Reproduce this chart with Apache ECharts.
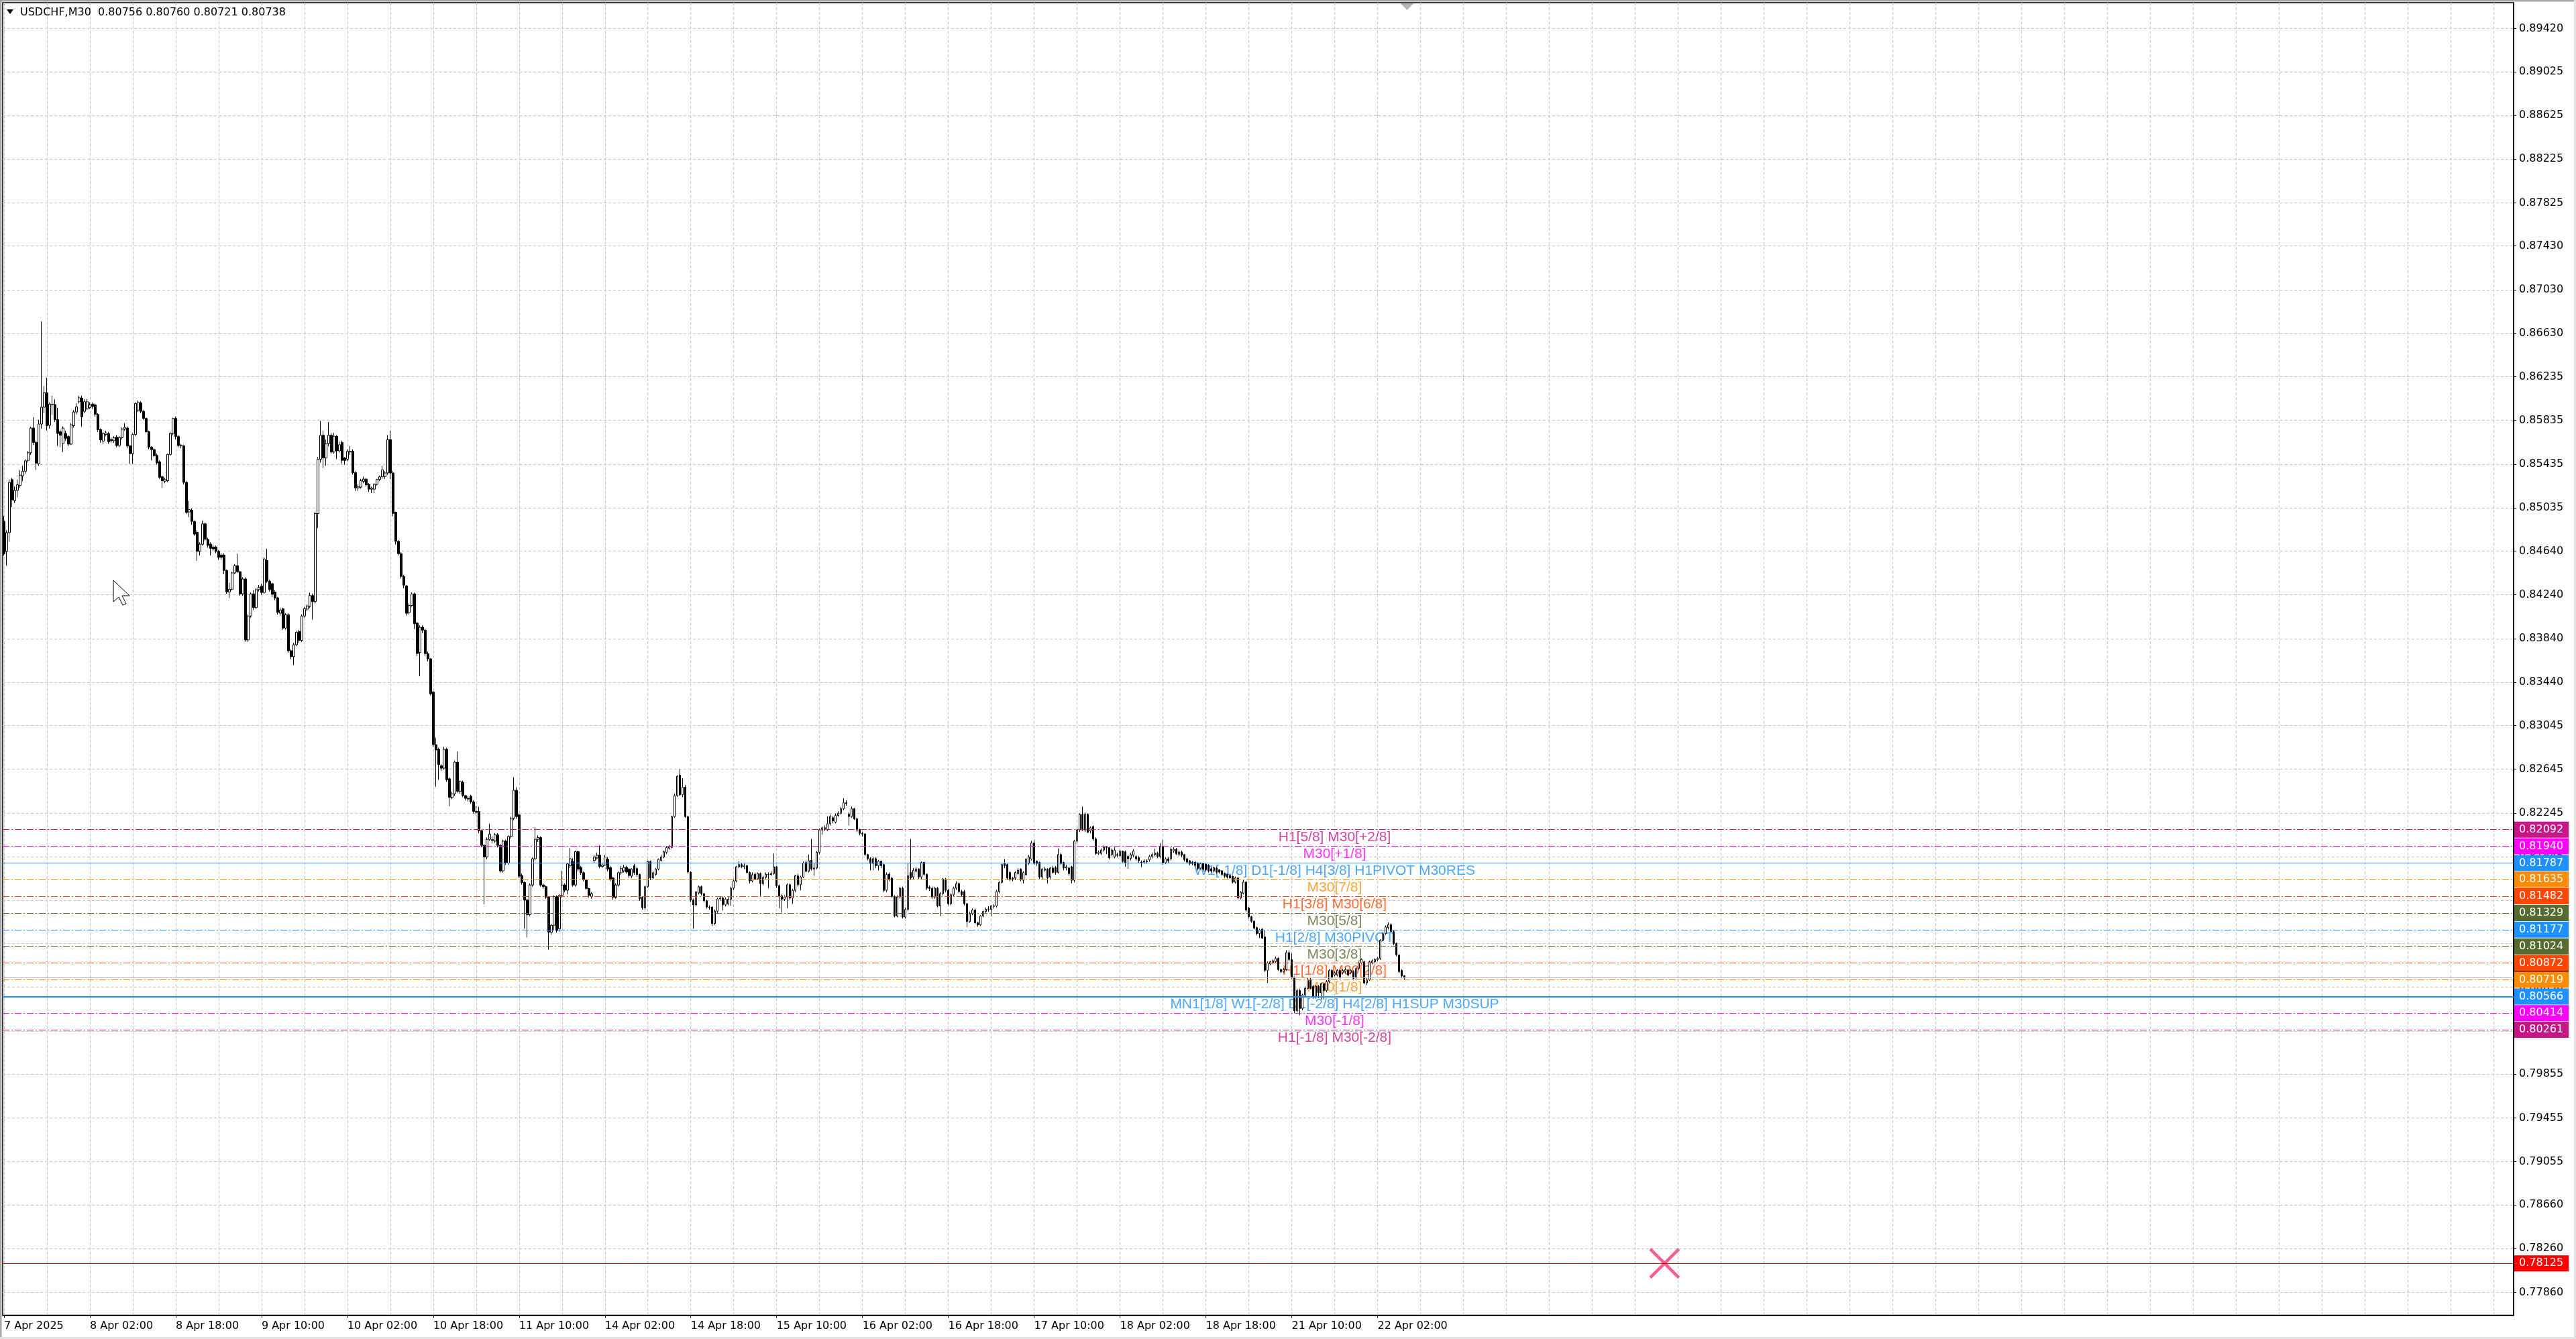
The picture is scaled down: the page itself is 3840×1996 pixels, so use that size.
<!DOCTYPE html>
<html><head><meta charset="utf-8">
<script src="https://cdn.jsdelivr.net/npm/echarts@6/dist/echarts.min.js"></script>
<style>html,body{margin:0;padding:0;background:#fff;overflow:hidden}#c{width:3840px;height:1996px}</style>
</head><body><div id="c"></div>
<script>
// ---------------- DATA ----------------
const symbolName = 'USDCHF,M30';
const slotCount = 936; // M30 slots visible on the time axis (incl. empty shift area)
const xTickLabels = ['7 Apr 2025','8 Apr 02:00','8 Apr 18:00','9 Apr 10:00','10 Apr 02:00','10 Apr 18:00',
  '11 Apr 10:00','14 Apr 02:00','14 Apr 18:00','15 Apr 10:00','16 Apr 02:00','16 Apr 18:00','17 Apr 10:00',
  '18 Apr 02:00','18 Apr 18:00','21 Apr 10:00','22 Apr 02:00'];
const yTickLabels = ['0.89420','0.89025','0.88625','0.88225','0.87825','0.87430','0.87030','0.86630','0.86235',
  '0.85835','0.85435','0.85035','0.84640','0.84240','0.83840','0.83440','0.83045','0.82645','0.82245','0.81845',
  '0.81445','0.81050','0.80650','0.80250','0.79855','0.79455','0.79055','0.78660','0.78260','0.77860'];
const levelPrices = [0.82092,0.81940,0.81787,0.81635,0.81482,0.81329,0.81177,0.81024,0.80872,0.80719,0.80566,0.80414,0.80261];
const levelNames = ['H1[5/8] M30[+2/8]','M30[+1/8]','W1[-1/8] D1[-1/8] H4[3/8] H1PIVOT M30RES','M30[7/8]',
  'H1[3/8] M30[6/8]','M30[5/8]','H1[2/8] M30PIVOT','M30[3/8]','H1[1/8] M30[2/8]','M30[1/8]',
  'MN1[1/8] W1[-2/8] D1[-2/8] H4[2/8] H1SUP M30SUP','M30[-1/8]','H1[-1/8] M30[-2/8]'];
const levelLabelBar = 496;
const bidPrice = 0.80738;
const stopPrice = 0.78125;
const stopMarkBar = 619;
// candles: [open, close, low, high]
const candles = [
// 0-49
[0.84911,0.84615,0.84600,0.84960],[0.84637,0.84808,0.84506,0.84830],[0.84808,0.85268,0.84725,0.85294],[0.85294,0.85108,0.85042,0.85310],[0.85101,0.85195,0.85080,0.85230],
[0.85195,0.85246,0.85130,0.85294],[0.85239,0.85334,0.85220,0.85380],[0.85327,0.85371,0.85280,0.85420],[0.85371,0.85465,0.85350,0.85480],[0.85469,0.85539,0.85450,0.85557],
[0.85539,0.85765,0.85520,0.85776],[0.85765,0.85634,0.85610,0.85864],[0.85634,0.85443,0.85382,0.85650],[0.85437,0.85802,0.85420,0.85842],[0.85802,0.85956,0.85760,0.86740],
[0.85956,0.86087,0.85900,0.86148],[0.86087,0.85787,0.85743,0.86225],[0.85791,0.85984,0.85760,0.86000],[0.85984,0.85980,0.85885,0.86061],[0.85980,0.85842,0.85820,0.86028],
[0.85842,0.85715,0.85601,0.85951],[0.85732,0.85699,0.85590,0.85750],[0.85623,0.85765,0.85546,0.85780],[0.85715,0.85671,0.85650,0.85740],[0.85688,0.85618,0.85600,0.85700],
[0.85618,0.85794,0.85610,0.85809],[0.85787,0.85912,0.85770,0.85930],[0.85912,0.85958,0.85890,0.85990],[0.86006,0.86043,0.85990,0.86061],[0.86039,0.85868,0.85776,0.86061],
[0.85918,0.86006,0.85900,0.86028],[0.85940,0.86006,0.85930,0.86030],[0.85951,0.85977,0.85940,0.86000],[0.85984,0.85962,0.85940,0.86000],[0.85977,0.85890,0.85870,0.85990],
[0.85890,0.85750,0.85730,0.85900],[0.85750,0.85656,0.85630,0.85760],[0.85645,0.85715,0.85620,0.85730],[0.85706,0.85721,0.85690,0.85740],[0.85715,0.85640,0.85620,0.85730],
[0.85660,0.85649,0.85630,0.85680],[0.85649,0.85677,0.85630,0.85690],[0.85682,0.85605,0.85590,0.85700],[0.85605,0.85677,0.85590,0.85690],[0.85677,0.85754,0.85660,0.85770],
[0.85754,0.85771,0.85740,0.85809],[0.85765,0.85601,0.85580,0.85780],[0.85601,0.85531,0.85437,0.85610],[0.85531,0.85706,0.85437,0.85720],[0.85706,0.85990,0.85690,0.86000],
// 50-99
[0.85929,0.85999,0.85910,0.86017],[0.85995,0.85918,0.85900,0.86010],[0.85918,0.85853,0.85840,0.85930],[0.85853,0.85732,0.85720,0.85860],[0.85732,0.85590,0.85570,0.85740],
[0.85590,0.85568,0.85469,0.85600],[0.85568,0.85513,0.85500,0.85580],[0.85515,0.85447,0.85430,0.85530],[0.85456,0.85315,0.85300,0.85470],[0.85319,0.85283,0.85217,0.85330],
[0.85277,0.85294,0.85260,0.85310],[0.85283,0.85524,0.85270,0.85530],[0.85524,0.85715,0.85510,0.85730],[0.85715,0.85853,0.85700,0.85860],[0.85853,0.85688,0.85660,0.85870],
[0.85688,0.85605,0.85590,0.85700],[0.85605,0.85601,0.85580,0.85620],[0.85601,0.85268,0.85250,0.85610],[0.85268,0.84992,0.84980,0.85280],[0.84998,0.85020,0.84950,0.85100],
[0.85014,0.84911,0.84880,0.85030],[0.84911,0.84795,0.84780,0.84920],[0.84812,0.84637,0.84550,0.84830],[0.84637,0.84703,0.84600,0.84720],[0.84703,0.84889,0.84690,0.84920],
[0.84889,0.84747,0.84730,0.84900],[0.84747,0.84692,0.84670,0.84760],[0.84703,0.84664,0.84600,0.84720],[0.84677,0.84660,0.84640,0.84700],[0.84677,0.84637,0.84620,0.84690],
[0.84637,0.84582,0.84560,0.84650],[0.84604,0.84582,0.84560,0.84620],[0.84604,0.84462,0.84429,0.84620],[0.84462,0.84265,0.84250,0.84470],[0.84265,0.84290,0.84211,0.84350],
[0.84290,0.84440,0.84280,0.84450],[0.84440,0.84506,0.84430,0.84520],[0.84506,0.84451,0.84440,0.84615],[0.84451,0.84248,0.84230,0.84460],[0.84248,0.84385,0.84230,0.84400],
[0.84385,0.83827,0.83810,0.84400],[0.83827,0.84046,0.83810,0.84060],[0.84046,0.84248,0.84030,0.84260],[0.84248,0.84123,0.84100,0.84280],[0.84123,0.84287,0.84110,0.84300],
[0.84287,0.84309,0.84270,0.84330],[0.84320,0.84261,0.84240,0.84340],[0.84261,0.84567,0.84250,0.84580],[0.84554,0.84364,0.84350,0.84660],[0.84364,0.84287,0.84270,0.84380],
// 100-149
[0.84342,0.84244,0.84220,0.84350],[0.84265,0.84211,0.84190,0.84280],[0.84211,0.84079,0.84060,0.84220],[0.84072,0.84101,0.84050,0.84120],[0.84112,0.83936,0.83920,0.84120],
[0.83936,0.84057,0.83920,0.84070],[0.84057,0.83728,0.83710,0.84070],[0.83728,0.83674,0.83650,0.83740],[0.83674,0.83783,0.83597,0.83800],[0.83783,0.83897,0.83770,0.83910],
[0.83904,0.83823,0.83800,0.83920],[0.83823,0.84046,0.83810,0.84060],[0.84046,0.84112,0.84030,0.84130],[0.84108,0.84138,0.84090,0.84150],[0.84134,0.84233,0.84120,0.84260],
[0.84233,0.84178,0.84013,0.84250],[0.84178,0.84983,0.84160,0.85000],[0.84983,0.85480,0.84850,0.85500],[0.85480,0.85699,0.85450,0.85831],[0.85699,0.85491,0.85400,0.85740],
[0.85491,0.85623,0.85420,0.85660],[0.85623,0.85699,0.85600,0.85820],[0.85699,0.85546,0.85530,0.85720],[0.85546,0.85690,0.85530,0.85720],[0.85690,0.85557,0.85480,0.85700],
[0.85557,0.85612,0.85540,0.85640],[0.85634,0.85469,0.85440,0.85650],[0.85491,0.85469,0.85430,0.85500],[0.85480,0.85552,0.85460,0.85570],[0.85552,0.85546,0.85520,0.85600],
[0.85552,0.85356,0.85340,0.85570],[0.85356,0.85217,0.85190,0.85370],[0.85217,0.85228,0.85190,0.85250],[0.85224,0.85283,0.85210,0.85300],[0.85277,0.85298,0.85260,0.85320],
[0.85298,0.85246,0.85230,0.85310],[0.85250,0.85206,0.85180,0.85260],[0.85206,0.85215,0.85170,0.85230],[0.85206,0.85250,0.85170,0.85260],[0.85250,0.85294,0.85240,0.85300],
[0.85294,0.85319,0.85280,0.85330],[0.85319,0.85382,0.85300,0.85420],[0.85322,0.85354,0.85300,0.85370],[0.85354,0.85659,0.85340,0.85700],[0.85659,0.85354,0.85300,0.85739],
[0.85354,0.84985,0.84960,0.85370],[0.84995,0.84729,0.84700,0.85000],[0.84729,0.84616,0.84600,0.84740],[0.84616,0.84408,0.84390,0.84630],[0.84408,0.84328,0.84300,0.84420],
// 150-199
[0.84321,0.84071,0.84050,0.84330],[0.84078,0.84142,0.84060,0.84160],[0.84142,0.84248,0.84130,0.84260],[0.84248,0.83975,0.83927,0.84260],[0.83981,0.83702,0.83680,0.83990],
[0.83712,0.83943,0.83494,0.83960],[0.83943,0.83917,0.83890,0.83960],[0.83917,0.83702,0.83680,0.83930],[0.83702,0.83654,0.83630,0.83720],[0.83654,0.83334,0.83320,0.83660],
[0.83350,0.82869,0.82850,0.83360],[0.82869,0.82821,0.82484,0.82933],[0.82827,0.82686,0.82548,0.82840],[0.82676,0.82654,0.82630,0.82690],[0.82654,0.82827,0.82640,0.82850],
[0.82827,0.82548,0.82530,0.82840],[0.82557,0.82387,0.82307,0.82570],[0.82387,0.82419,0.82370,0.82440],[0.82419,0.82709,0.82400,0.82720],[0.82709,0.82442,0.82430,0.82805],
[0.82442,0.82532,0.82420,0.82540],[0.82525,0.82403,0.82390,0.82540],[0.82403,0.82378,0.82360,0.82410],[0.82378,0.82372,0.82350,0.82400],[0.82397,0.82346,0.82330,0.82410],
[0.82346,0.82259,0.82240,0.82360],[0.82259,0.82250,0.82230,0.82310],[0.82259,0.82083,0.82060,0.82301],[0.82083,0.81948,0.81930,0.82090],[0.81948,0.81842,0.81410,0.81960],
[0.81842,0.82003,0.81820,0.82020],[0.82003,0.82051,0.81990,0.82147],[0.82000,0.81993,0.81970,0.82030],[0.81987,0.82045,0.81970,0.82060],[0.82045,0.81948,0.81930,0.82060],
[0.81948,0.81714,0.81700,0.81960],[0.81714,0.81987,0.81700,0.82000],[0.81987,0.81787,0.81770,0.82000],[0.81787,0.82029,0.81770,0.82040],[0.82029,0.82195,0.82010,0.82210],
[0.82195,0.82452,0.82180,0.82570],[0.82452,0.82211,0.82190,0.82480],[0.82227,0.81666,0.81650,0.82240],[0.81672,0.81608,0.81590,0.81690],[0.81608,0.81448,0.81185,0.81620],
[0.81448,0.81314,0.81105,0.81460],[0.81314,0.81586,0.81300,0.81600],[0.81586,0.81826,0.81570,0.81840],[0.81826,0.82003,0.81810,0.82115],[0.82003,0.82019,0.81980,0.82040],
// 200-249
[0.82019,0.81586,0.81570,0.82030],[0.81586,0.81570,0.81550,0.81600],[0.81570,0.81474,0.81460,0.81580],[0.81474,0.81153,0.80993,0.81480],[0.81153,0.81217,0.81130,0.81230],
[0.81217,0.81480,0.81170,0.81490],[0.81480,0.81169,0.81150,0.81490],[0.81185,0.81490,0.81160,0.81500],[0.81490,0.81586,0.81470,0.81714],[0.81586,0.81538,0.81520,0.81600],
[0.81538,0.81778,0.81500,0.81790],[0.81762,0.81826,0.81740,0.81922],[0.81800,0.81586,0.81570,0.81830],[0.81586,0.81890,0.81570,0.81900],[0.81890,0.81730,0.81710,0.81900],
[0.81746,0.81698,0.81680,0.81760],[0.81698,0.81634,0.81620,0.81710],[0.81634,0.81554,0.81540,0.81640],[0.81554,0.81490,0.81470,0.81560],[0.81480,0.81506,0.81460,0.81520],
[0.81810,0.81842,0.81790,0.81860],[0.81833,0.81858,0.81820,0.81880],[0.81858,0.81756,0.81740,0.81948],[0.81756,0.81769,0.81740,0.81790],[0.81769,0.81842,0.81760,0.81860],
[0.81820,0.81730,0.81710,0.81840],[0.81746,0.81640,0.81620,0.81760],[0.81650,0.81474,0.81450,0.81660],[0.81474,0.81586,0.81460,0.81600],[0.81586,0.81698,0.81570,0.81710],
[0.81698,0.81736,0.81680,0.81760],[0.81714,0.81746,0.81700,0.81770],[0.81746,0.81704,0.81690,0.81760],[0.81730,0.81672,0.81650,0.81740],[0.81666,0.81730,0.81650,0.81740],
[0.81762,0.81698,0.81680,0.81780],[0.81736,0.81682,0.81660,0.81750],[0.81682,0.81458,0.81440,0.81690],[0.81474,0.81378,0.81360,0.81480],[0.81378,0.81570,0.81360,0.81580],
[0.81570,0.81801,0.81560,0.81810],[0.81801,0.81650,0.81630,0.81810],[0.81650,0.81698,0.81640,0.81710],[0.81682,0.81730,0.81670,0.81740],[0.81730,0.81820,0.81720,0.81830],
[0.81810,0.81842,0.81800,0.81860],[0.81840,0.81890,0.81830,0.81900],[0.81884,0.81929,0.81870,0.81940],[0.81922,0.81939,0.81910,0.81950],[0.81929,0.82211,0.81920,0.82220],
// 250-299
[0.82211,0.82403,0.82200,0.82420],[0.82403,0.82580,0.82390,0.82590],[0.82590,0.82410,0.82400,0.82645],[0.82410,0.82480,0.82390,0.82560],[0.82480,0.82211,0.82200,0.82500],
[0.82211,0.81704,0.81690,0.82220],[0.81704,0.81448,0.81430,0.81710],[0.81448,0.81403,0.81185,0.81460],[0.81403,0.81522,0.81390,0.81530],[0.81512,0.81570,0.81500,0.81580],
[0.81570,0.81506,0.81490,0.81580],[0.81506,0.81442,0.81430,0.81510],[0.81442,0.81384,0.81370,0.81450],[0.81384,0.81380,0.81360,0.81400],[0.81384,0.81233,0.81210,0.81390],
[0.81233,0.81346,0.81220,0.81360],[0.81346,0.81458,0.81330,0.81470],[0.81458,0.81467,0.81440,0.81480],[0.81467,0.81404,0.81352,0.81480],[0.81404,0.81455,0.81390,0.81470],
[0.81414,0.81455,0.81400,0.81480],[0.81455,0.81557,0.81394,0.81570],[0.81557,0.81623,0.81540,0.81640],[0.81623,0.81752,0.81610,0.81760],[0.81752,0.81772,0.81740,0.81803],
[0.81772,0.81752,0.81740,0.81790],[0.81752,0.81760,0.81730,0.81780],[0.81762,0.81700,0.81690,0.81770],[0.81700,0.81623,0.81600,0.81710],[0.81623,0.81680,0.81610,0.81700],
[0.81684,0.81640,0.81630,0.81700],[0.81640,0.81690,0.81630,0.81700],[0.81690,0.81598,0.81486,0.81700],[0.81598,0.81655,0.81580,0.81670],[0.81655,0.81684,0.81640,0.81700],
[0.81684,0.81680,0.81557,0.81700],[0.81680,0.81690,0.81670,0.81710],[0.81690,0.81752,0.81680,0.81874],[0.81752,0.81578,0.81560,0.81760],[0.81578,0.81486,0.81374,0.81590],
[0.81486,0.81455,0.81332,0.81500],[0.81455,0.81476,0.81440,0.81490],[0.81476,0.81588,0.81374,0.81600],[0.81588,0.81465,0.81450,0.81600],[0.81465,0.81537,0.81414,0.81550],
[0.81537,0.81670,0.81520,0.81680],[0.81670,0.81588,0.81570,0.81690],[0.81588,0.81659,0.81537,0.81670],[0.81659,0.81786,0.81650,0.81800],[0.81792,0.81711,0.81700,0.81810],
// 300-349
[0.81711,0.81807,0.81700,0.81864],[0.81813,0.81731,0.81720,0.82007],[0.81731,0.81741,0.81670,0.81790],[0.81741,0.81885,0.81730,0.81895],[0.81885,0.82089,0.81870,0.82100],
[0.82089,0.82109,0.82048,0.82120],[0.82100,0.82109,0.82080,0.82130],[0.82089,0.82146,0.82080,0.82212],[0.82146,0.82212,0.82130,0.82230],[0.82201,0.82171,0.82150,0.82215],
[0.82160,0.82222,0.82150,0.82240],[0.82222,0.82242,0.82210,0.82260],[0.82242,0.82283,0.82230,0.82300],[0.82283,0.82338,0.82270,0.82379],[0.82338,0.82330,0.82310,0.82360],
[0.82232,0.82212,0.82130,0.82250],[0.82212,0.82283,0.82200,0.82303],[0.82283,0.82191,0.82180,0.82290],[0.82191,0.82089,0.82070,0.82200],[0.82093,0.82058,0.82040,0.82100],
[0.82058,0.82052,0.82030,0.82070],[0.82052,0.81864,0.81850,0.82060],[0.81864,0.81827,0.81810,0.81870],[0.81827,0.81782,0.81720,0.81840],[0.81782,0.81827,0.81720,0.81840],
[0.81827,0.81762,0.81740,0.81840],[0.81762,0.81803,0.81720,0.81815],[0.81803,0.81762,0.81740,0.81810],[0.81772,0.81537,0.81520,0.81780],[0.81537,0.81684,0.81520,0.81700],
[0.81684,0.81639,0.81620,0.81700],[0.81649,0.81480,0.81470,0.81660],[0.81480,0.81302,0.81290,0.81490],[0.81302,0.81476,0.81290,0.81490],[0.81476,0.81557,0.81460,0.81567],
[0.81557,0.81292,0.81280,0.81570],[0.81292,0.81363,0.81280,0.81380],[0.81363,0.81670,0.81350,0.81782],[0.81700,0.81649,0.81630,0.82007],[0.81659,0.81721,0.81640,0.81740],
[0.81711,0.81731,0.81700,0.81750],[0.81731,0.81659,0.81640,0.81740],[0.81659,0.81792,0.81640,0.81800],[0.81792,0.81684,0.81670,0.81800],[0.81684,0.81557,0.81540,0.81690],
[0.81567,0.81553,0.81530,0.81580],[0.81553,0.81476,0.81460,0.81570],[0.81476,0.81557,0.81460,0.81567],[0.81557,0.81394,0.81380,0.81567],[0.81394,0.81506,0.81302,0.81520],
// 350-399
[0.81506,0.81639,0.81490,0.81650],[0.81639,0.81537,0.81520,0.81650],[0.81537,0.81414,0.81400,0.81550],[0.81414,0.81496,0.81400,0.81510],[0.81496,0.81557,0.81480,0.81570],
[0.81557,0.81598,0.81540,0.81620],[0.81598,0.81526,0.81510,0.81610],[0.81526,0.81496,0.81480,0.81540],[0.81526,0.81414,0.81400,0.81540],[0.81414,0.81251,0.81200,0.81420],
[0.81251,0.81322,0.81240,0.81340],[0.81322,0.81357,0.81310,0.81370],[0.81357,0.81240,0.81230,0.81370],[0.81240,0.81220,0.81205,0.81250],[0.81220,0.81302,0.81210,0.81310],
[0.81302,0.81343,0.81290,0.81350],[0.81343,0.81363,0.81330,0.81380],[0.81363,0.81367,0.81340,0.81390],[0.81363,0.81394,0.81300,0.81400],[0.81394,0.81390,0.81370,0.81410],
[0.81394,0.81526,0.81380,0.81540],[0.81526,0.81609,0.81510,0.81620],[0.81609,0.81772,0.81600,0.81780],[0.81782,0.81762,0.81740,0.81823],[0.81772,0.81649,0.81630,0.81780],
[0.81700,0.81639,0.81620,0.81710],[0.81649,0.81639,0.81620,0.81660],[0.81649,0.81700,0.81630,0.81710],[0.81690,0.81721,0.81680,0.81740],[0.81731,0.81639,0.81620,0.81740],
[0.81629,0.81700,0.81600,0.81710],[0.81680,0.81823,0.81670,0.81830],[0.81782,0.81843,0.81770,0.81860],[0.81823,0.81970,0.81810,0.81990],[0.81970,0.81782,0.81770,0.81997],
[0.81803,0.81782,0.81760,0.81810],[0.81792,0.81659,0.81640,0.81800],[0.81659,0.81731,0.81640,0.81740],[0.81721,0.81731,0.81710,0.81750],[0.81731,0.81649,0.81600,0.81740],
[0.81659,0.81741,0.81640,0.81750],[0.81741,0.81700,0.81690,0.81760],[0.81746,0.81700,0.81680,0.81760],[0.81700,0.81864,0.81690,0.81920],[0.81864,0.81782,0.81770,0.81880],
[0.81792,0.81741,0.81720,0.81800],[0.81741,0.81752,0.81720,0.81770],[0.81741,0.81690,0.81670,0.81750],[0.81752,0.81629,0.81600,0.81760],[0.81629,0.81987,0.81610,0.81997],
// 400-449
[0.81987,0.82089,0.81970,0.82100],[0.82089,0.82232,0.82070,0.82240],[0.82232,0.82089,0.82080,0.82303],[0.82089,0.82232,0.82070,0.82250],[0.82232,0.82068,0.82060,0.82240],
[0.82079,0.82109,0.82060,0.82120],[0.82120,0.82007,0.81990,0.82130],[0.82007,0.81874,0.81860,0.82020],[0.81874,0.81885,0.81860,0.81900],[0.81874,0.81905,0.81860,0.81920],
[0.81905,0.81930,0.81890,0.81946],[0.81926,0.81930,0.81870,0.81940],[0.81926,0.81833,0.81820,0.81935],[0.81864,0.81905,0.81850,0.81920],[0.81843,0.81905,0.81830,0.81930],
[0.81859,0.81864,0.81840,0.81880],[0.81854,0.81895,0.81840,0.81910],[0.81895,0.81800,0.81790,0.81900],[0.81889,0.81786,0.81752,0.81900],[0.81846,0.81826,0.81734,0.81860],
[0.81830,0.81863,0.81810,0.81880],[0.81857,0.81897,0.81840,0.81910],[0.81846,0.81826,0.81810,0.81860],[0.81836,0.81810,0.81790,0.81850],[0.81795,0.81789,0.81748,0.81810],
[0.81795,0.81806,0.81780,0.81820],[0.81806,0.81799,0.81780,0.81820],[0.81816,0.81846,0.81800,0.81860],[0.81846,0.81863,0.81830,0.81880],[0.81863,0.81877,0.81850,0.81918],
[0.81877,0.81846,0.81830,0.81890],[0.81846,0.81938,0.81830,0.81969],[0.81938,0.81789,0.81770,0.82000],[0.81789,0.81826,0.81775,0.81840],[0.81826,0.81806,0.81790,0.81840],
[0.81826,0.81912,0.81810,0.81930],[0.81897,0.81912,0.81880,0.81930],[0.81912,0.81871,0.81860,0.81925],[0.81867,0.81887,0.81850,0.81900],[0.81887,0.81857,0.81840,0.81900],
[0.81863,0.81816,0.81800,0.81870],[0.81826,0.81795,0.81780,0.81830],[0.81806,0.81781,0.81765,0.81815],[0.81795,0.81781,0.81765,0.81805],[0.81795,0.81765,0.81750,0.81805],
[0.81785,0.81734,0.81720,0.81795],[0.81740,0.81781,0.81725,0.81790],[0.81781,0.81728,0.81710,0.81790],[0.81775,0.81724,0.81710,0.81785],[0.81769,0.81714,0.81700,0.81775],
// 450-499
[0.81734,0.81714,0.81700,0.81745],[0.81714,0.81744,0.81700,0.81755],[0.81740,0.81703,0.81690,0.81750],[0.81724,0.81703,0.81690,0.81730],[0.81714,0.81683,0.81670,0.81720],
[0.81693,0.81666,0.81650,0.81700],[0.81683,0.81658,0.81645,0.81690],[0.81673,0.81652,0.81640,0.81680],[0.81666,0.81612,0.81600,0.81672],[0.81612,0.81650,0.81600,0.81662],
[0.81650,0.81468,0.81455,0.81660],[0.81468,0.81519,0.81455,0.81530],[0.81509,0.81612,0.81500,0.81632],[0.81612,0.81356,0.81340,0.81620],[0.81376,0.81295,0.81280,0.81385],
[0.81295,0.81254,0.81240,0.81305],[0.81254,0.81192,0.81180,0.81260],[0.81196,0.81141,0.81125,0.81205],[0.81141,0.81172,0.81100,0.81185],[0.81182,0.81100,0.81090,0.81190],
[0.81110,0.80804,0.80790,0.81170],[0.80804,0.80873,0.80691,0.80885],[0.80863,0.80883,0.80850,0.80895],[0.80873,0.80893,0.80860,0.80905],[0.80883,0.80914,0.80870,0.80930],
[0.80914,0.80812,0.80800,0.80925],[0.80812,0.80793,0.80780,0.80820],[0.80793,0.80812,0.80780,0.80825],[0.80812,0.80967,0.80800,0.80988],[0.80967,0.80904,0.80890,0.80988],
[0.80904,0.80742,0.80730,0.80960],[0.80742,0.80436,0.80415,0.80750],[0.80436,0.80620,0.80420,0.80635],[0.80620,0.80456,0.80395,0.80635],[0.80456,0.80579,0.80440,0.80590],
[0.80579,0.80640,0.80560,0.80655],[0.80640,0.80722,0.80630,0.80735],[0.80722,0.80640,0.80630,0.80735],[0.80660,0.80558,0.80545,0.80670],[0.80558,0.80660,0.80545,0.80670],
[0.80660,0.80599,0.80550,0.80670],[0.80599,0.80681,0.80538,0.80690],[0.80681,0.80620,0.80538,0.80690],[0.80620,0.80702,0.80605,0.80715],[0.80702,0.80804,0.80690,0.80815],
[0.80804,0.80742,0.80730,0.80815],[0.80763,0.80783,0.80750,0.80795],[0.80763,0.80804,0.80750,0.80815],[0.80804,0.80742,0.80730,0.80815],[0.80783,0.80804,0.80770,0.80815],
// 500-522
[0.80793,0.80812,0.80780,0.80830],[0.80804,0.80763,0.80750,0.80815],[0.80783,0.80804,0.80770,0.80815],[0.80793,0.80732,0.80720,0.80805],[0.80742,0.80822,0.80730,0.80835],
[0.80822,0.80873,0.80810,0.80885],[0.80873,0.80904,0.80860,0.80914],[0.80883,0.80690,0.80680,0.80895],[0.80690,0.80722,0.80670,0.80735],[0.80722,0.80883,0.80710,0.80895],
[0.80873,0.80893,0.80860,0.80905],[0.80883,0.80904,0.80870,0.80915],[0.80904,0.80914,0.80890,0.80925],[0.80914,0.81080,0.80900,0.81090],[0.81080,0.81141,0.81070,0.81155],
[0.81141,0.81202,0.81130,0.81215],[0.81196,0.81223,0.81180,0.81243],[0.81223,0.81161,0.81150,0.81235],[0.81161,0.81049,0.81035,0.81170],[0.81049,0.80947,0.80935,0.81060],
[0.80943,0.80793,0.80780,0.80955],[0.80804,0.80753,0.80740,0.80815],[0.80756,0.80738,0.80721,0.80760]
];

// ---------------- STYLES ----------------
const FONT_AX = 'DejaVu Sans';
const FONT_TXT = 'Liberation Sans';
const DD = [10,3,2,3];
const levelStyles = [
  {color:'#C71585', type:DD, width:1},
  {color:'#FF00FF', type:DD, width:1},
  {color:'#1E90FF', type:'solid', width:1},
  {color:'#FF8C00', type:DD, width:1},
  {color:'#FF4500', type:DD, width:1},
  {color:'#556B2F', type:DD, width:1},
  {color:'#1E90FF', type:DD, width:1},
  {color:'#556B2F', type:DD, width:1},
  {color:'#FF4500', type:DD, width:1},
  {color:'#FF8C00', type:DD, width:1},
  {color:'#1E90FF', type:'solid', width:2},
  {color:'#FF00FF', type:DD, width:1},
  {color:'#C71585', type:DD, width:1}
];
const gridLineStyle = {color:'#C4C4C4', type:[4,3], width:1};

// ---------------- BUILD ----------------
const categories = Array.from({length: slotCount}, (_, i) => String(i));
const yTickValues = yTickLabels.map(Number);
const fmt5 = v => Number(v).toFixed(5);

function priceTag(v, bg, fg) {
  return {show:true, position:'end', distance:1, formatter: fmt5(v), backgroundColor:bg, color:fg||'#fff',
    padding:[4,8,3,7], fontFamily:FONT_AX, fontSize:16, lineHeight:17};
}
const markLines = [];
markLines.push({yAxis: bidPrice, lineStyle:{color:'#C0C0C0', type:'solid', width:1}, label: priceTag(bidPrice, '#000', '#fff')});
levelPrices.forEach((p, i) => {
  markLines.push({yAxis: p, lineStyle: levelStyles[i], label: priceTag(p, levelStyles[i].color)});
});
markLines.push({yAxis: stopPrice, lineStyle:{color:'#FF0000', type:'solid', width:1}, label: priceTag(stopPrice, '#FF0000')});

const levelTextData = levelPrices.map((p, i) => ({
  value: [levelLabelBar, p],
  label: {formatter: levelNames[i], color: levelStyles[i].color}
}));

const last = candles[candles.length - 1];
const titleText = symbolName + '  ' + [last[0], last[3], last[2], last[1]].map(fmt5).join(' ');

const chart = echarts.init(document.getElementById('c'), null, {renderer:'canvas', width:3840, height:1996});
const option = {
  animation: false,
  backgroundColor: '#fff',
  grid: {left: 4, right: 93, top: 4, bottom: 35.4, show: true, borderColor: '#000', borderWidth: 1.5, backgroundColor: '#fff'},
  xAxis: {
    type: 'category', data: categories, boundaryGap: true,
    axisLine: {show: true, lineStyle: {color: '#000', width: 1.5}},
    axisTick: {show: true, alignWithLabel: true, length: 4, lineStyle: {color: '#000'},
      interval: (idx) => idx % 32 === 0 && idx / 32 < xTickLabels.length},
    axisLabel: {show: true, align: 'left', margin: 8, fontFamily: FONT_AX, fontSize: 16, color: '#000',
      interval: (idx) => idx % 32 === 0 && idx / 32 < xTickLabels.length,
      formatter: (val, idx) => xTickLabels[idx / 32] || ''},
    splitLine: {show: true, alignWithLabel: true, interval: (idx) => idx % 16 === 0, lineStyle: gridLineStyle}
  },
  yAxis: {
    type: 'value', position: 'right', min: 0.776502, max: 0.896556, scale: true,
    axisLine: {show: true, lineStyle: {color: '#000', width: 1.5}},
    axisTick: {show: true, length: 4, customValues: yTickValues, lineStyle: {color: '#000'}},
    axisLabel: {show: true, customValues: yTickValues, margin: 8, fontFamily: FONT_AX, fontSize: 16, color: '#000', formatter: fmt5},
    splitLine: {show: true, lineStyle: gridLineStyle}
  },
  series: [
    {
      name: 'levels', type: 'scatter', z: 1, silent: true, symbolSize: 1,
      itemStyle: {color: 'rgba(0,0,0,0)'},
      label: {show: true, position: 'bottom', distance: 1, fontFamily: FONT_TXT, fontSize: 21, lineHeight: 21},
      labelLayout: {hideOverlap: false},
      data: levelTextData,
      markLine: {silent: true, precision: 5, symbol: ['none', 'none'], animation: false, data: markLines}
    },
    {
      name: symbolName, type: 'candlestick', z: 3, silent: true, barWidth: 3,
      itemStyle: {color: '#fff', color0: '#000', borderColor: '#000', borderColor0: '#000', borderWidth: 1},
      data: candles
    },
    {
      name: 'stop', type: 'scatter', z: 4, silent: true,
      symbol: 'path://M0.7,0 L5,4.3 L9.3,0 L10,0.7 L5.7,5 L10,9.3 L9.3,10 L5,5.7 L0.7,10 L0,9.3 L4.3,5 L0,0.7 Z',
      symbolSize: 46, itemStyle: {color: '#F0386C'},
      data: [[stopMarkBar, stopPrice]]
    }
  ]
};
chart.setOption(option);

// decorations (window frame, title, shift marker, mouse cursor)
const shiftX = chart.convertToPixel({xAxisIndex: 0}, candles.length);
chart.setOption({
  graphic: [
    {type: 'rect', shape: {x: 0, y: 0, width: 3840, height: 2.5}, style: {fill: '#A6A6A6'}, silent: true},
    {type: 'rect', shape: {x: 0, y: 0, width: 2.5, height: 1996}, style: {fill: '#A6A6A6'}, silent: true},
    {type: 'rect', shape: {x: 0, y: 1993, width: 3840, height: 3}, style: {fill: '#E2E2E2'}, silent: true},
    {type: 'rect', shape: {x: 3837, y: 0, width: 3, height: 1996}, style: {fill: '#E2E2E2'}, silent: true},
    {type: 'polygon', shape: {points: [[10, 14], [20, 14], [15, 21]]}, style: {fill: '#000'}, silent: true},
    {type: 'text', x: 30, y: 11, style: {text: titleText, font: '16px "DejaVu Sans"', fill: '#000'}, silent: true},
    {type: 'polygon', shape: {points: [[shiftX - 10, 5], [shiftX + 10, 5], [shiftX, 15]]}, style: {fill: '#B4B4B4'}, silent: true, z: 10},
    {type: 'polygon', shape: {points: [[169, 865], [169, 897], [177, 890], [183, 902], [188, 900], [182, 888], [193, 888]]},
      style: {fill: '#fff', stroke: '#000', lineWidth: 1}, silent: true, z: 10}
  ]
});
</script></body></html>
